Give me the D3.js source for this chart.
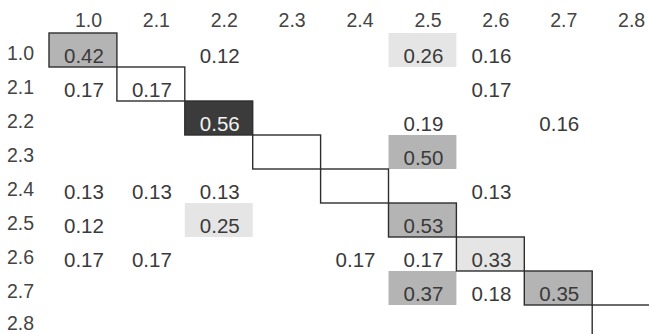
<!DOCTYPE html>
<html>
<head>
<meta charset="utf-8">
<script src="https://cdn.jsdelivr.net/npm/d3@7/dist/d3.min.js"></script>
<style>
  html, body { margin: 0; padding: 0; background: #fff; }
  svg { display: block; }
  text { font-family: "Liberation Sans", Arial, sans-serif; }
</style>
</head>
<body>
<div id="chart"></div>
<script>
// Category labels shared by rows and columns
const categories = ["1.0", "2.1", "2.2", "2.3", "2.4", "2.5", "2.6", "2.7", "2.8"];

// One array per row; null = no value shown
const row10 = [0.42, null, 0.12, null, null, 0.26, 0.16, null, null];
const row21 = [0.17, 0.17, null, null, null, null, 0.17, null, null];
const row22 = [null, null, 0.56, null, null, 0.19, null, 0.16, null];
const row23 = [null, null, null, null, null, 0.50, null, null, null];
const row24 = [0.13, 0.13, 0.13, null, null, null, 0.13, null, null];
const row25 = [0.12, null, 0.25, null, null, 0.53, null, null, null];
const row26 = [0.17, 0.17, null, null, 0.17, 0.17, 0.33, null, null];
const row27 = [null, null, null, null, null, 0.37, 0.18, 0.35, null];
const row28 = [null, null, null, null, null, null, null, null, null];
const rows = [row10, row21, row22, row23, row24, row25, row26, row27, row28];

const width = 649, height = 334;
const svg = d3.select("#chart").append("svg")
  .attr("width", width).attr("height", height);

const x = d3.scaleBand().domain(categories).range([49, 49 + 9 * 67.9]).padding(0);
const y = d3.scaleBand().domain(categories).range([33, 33 + 9 * 34]).padding(0);

// Shading steps by value
const fill = d3.scaleThreshold()
  .domain([0.2, 0.34, 0.55])
  .range(["none", "#e5e5e5", "#b4b4b4", "#3b3b3b"]);
const ink = d3.scaleThreshold()
  .domain([0.55])
  .range(["#3a3a3a", "#f2f2f2"]);

const cells = [];
rows.forEach((r, i) => r.forEach((v, j) => {
  cells.push({ row: categories[i], col: categories[j], value: v });
}));

// Cell backgrounds
svg.append("g").selectAll("rect")
  .data(cells.filter(d => d.value !== null && fill(d.value) !== "none"))
  .join("rect")
  .attr("x", d => x(d.col))
  .attr("y", d => y(d.row))
  .attr("width", x.bandwidth())
  .attr("height", y.bandwidth())
  .attr("fill", d => fill(d.value));

// Diagonal outline
svg.append("g").selectAll("rect")
  .data(categories)
  .join("rect")
  .attr("x", d => x(d))
  .attr("y", d => y(d))
  .attr("width", x.bandwidth())
  .attr("height", y.bandwidth())
  .attr("fill", "none")
  .attr("stroke", "#2e2e2e")
  .attr("stroke-width", 1.4);

// Values
svg.append("g").selectAll("text")
  .data(cells.filter(d => d.value !== null))
  .join("text")
  .attr("x", d => x(d.col) + x.bandwidth() / 2 + 1)
  .attr("y", d => y(d.row) + y.bandwidth() - 4.5)
  .attr("text-anchor", "middle")
  .attr("font-size", 20.5)
  .attr("fill", d => ink(d.value))
  .text(d => d3.format(".2f")(d.value));

// Column labels
svg.append("g").selectAll("text")
  .data(categories)
  .join("text")
  .attr("x", d => x(d) + x.bandwidth() / 2 + 5.5)
  .attr("y", y.range()[0] - 6)
  .attr("text-anchor", "middle")
  .attr("font-size", 19.5)
  .attr("fill", "#444")
  .text(d => d);

// Row labels (last one kept inside the bottom edge)
svg.append("g").selectAll("text")
  .data(categories)
  .join("text")
  .attr("x", 34)
  .attr("y", d => Math.min(y(d) + y.bandwidth() - 7, height - 4.5))
  .attr("text-anchor", "end")
  .attr("font-size", 19.5)
  .attr("fill", "#444")
  .text(d => d);
</script>
</body>
</html>
